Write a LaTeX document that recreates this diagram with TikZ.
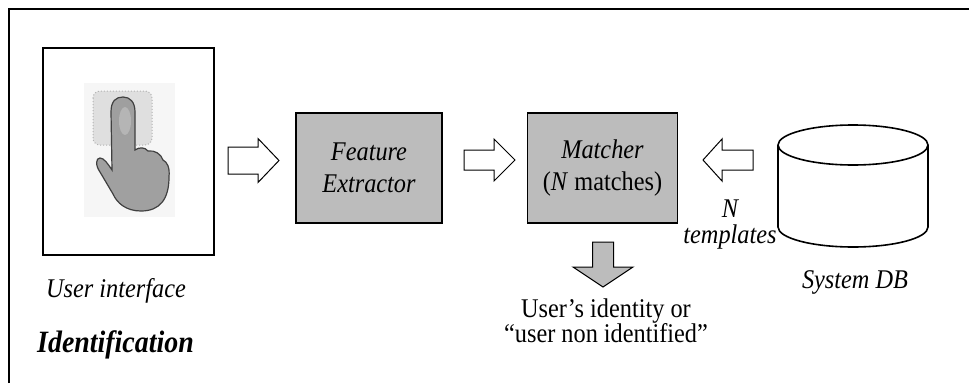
\documentclass[tikz,border=0pt]{standalone}
\usepackage{fontspec}
\setmainfont{Liberation Serif}[FakeStretch=0.9]
\definecolor{boxgray}{RGB}{188,188,188}
\definecolor{handgray}{RGB}{160,160,160}
\begin{document}
\begin{tikzpicture}[x=1pt,y=-1pt,
  frame/.style={draw,line width=1.8pt,inner sep=0pt},
  box/.style={draw,line width=1.8pt,fill=boxgray,inner sep=0pt,align=center,
    font=\fontsize{27}{32}\selectfont},
  blockarrow/.style={draw,line width=1pt,line join=miter,fill=white},
  lbl/.style={font=\fontsize{27}{26}\selectfont\itshape,inner sep=0pt,align=center}]
\useasboundingbox (0,0) rectangle (969,383);
\fill[white] (0,0) rectangle (969,383);
% outer frame (open at right and bottom)
\draw[line width=2pt] (9,383) -- (9,9) -- (969,9);

% user interface
\node[frame,minimum width=171pt,minimum height=207pt] (ui) at (128.5,151.5) {};
\fill[gray!7] (84,83) rectangle (175,217);
\filldraw[fill=gray!25,draw=gray!60,dotted,line width=1pt,rounded corners=7pt] (93,91) rectangle (152,145);
\draw[fill=handgray,draw=gray!50!black,line width=1.2pt]
  (111,112) .. controls (111,101) and (116,97) .. (123,97)
  .. controls (130,97) and (135,102) .. (135,112) -- (135,150)
  .. controls (139,147) and (145,147) .. (148,151)
  .. controls (155,150) and (161,154) .. (163,160)
  .. controls (167,162) and (170,167) .. (169,177)
  .. controls (169,199) and (160,211) .. (141,211)
  .. controls (126,211) and (117,203) .. (113,194)
  -- (100,172) .. controls (95,165) and (96,158) .. (100,158)
  .. controls (104,158) and (108,164) .. (112,170) -- cycle;
\fill[gray!75] (123,117) ellipse [x radius=10,y radius=19];
\fill[gray!58] (125,121) ellipse [x radius=6,y radius=14];
\node[lbl,anchor=base] (uil) at (116,297) {User interface};

% feature extractor and matcher
\node[box,minimum width=146pt,minimum height=110pt] (fe) at (369,168)
  {\itshape Feature\\\itshape Extractor};
\node[box,minimum width=150pt,minimum height=110pt] (m) at (602.5,168)
  {\itshape Matcher\\(\textit{N} matches)};

% block arrows
\draw[blockarrow] (228,147) -- (258,147) -- (258,138.5) -- (279,160.5)
  -- (258,182.5) -- (258,174) -- (228,174) -- cycle;
\draw[blockarrow] (464,150) -- (494,150) -- (494,139) -- (515,160)
  -- (494,181) -- (494,170) -- (464,170) -- cycle;
\draw[blockarrow] (753,150) -- (722,150) -- (722,139) -- (703,160)
  -- (722,181) -- (722,170) -- (753,170) -- cycle;
\draw[blockarrow,fill=boxgray] (592.5,242) -- (613.5,242) -- (613.5,267) -- (633,267)
  -- (603,287) -- (573,267) -- (592.5,267) -- cycle;

% database
\draw[line width=1.6pt] (778,145) -- (778,227)
  arc[start angle=180,end angle=0,x radius=75,y radius=20] -- (928,145);
\draw[line width=1.6pt] (853,145) ellipse [x radius=75,y radius=20];
\node[lbl,anchor=base] (db) at (855,288) {System DB};

% labels (base anchor = baseline of last line)
\node[lbl,anchor=base] (nt) at (730,243) {\textit{N}\\templates};
\node[inner sep=0pt,anchor=base,align=center,font=\fontsize{27}{25}\selectfont] (out)
  at (606,342) {User's identity or\\``user non identified''};
\node[inner sep=0pt,anchor=base west,font=\fontsize{31}{30}\selectfont\bfseries\itshape] (id)
  at (37,352) {Identification};
\end{tikzpicture}
\end{document}
